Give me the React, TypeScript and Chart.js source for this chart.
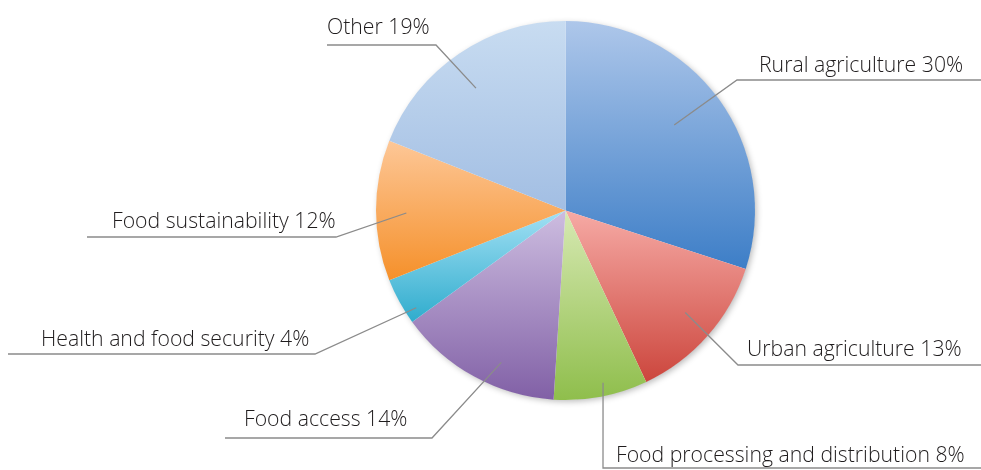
import { useEffect, useRef } from "react";
import { Chart, registerables } from "chart.js";

Chart.register(...registerables);

// ---- data ----
const categories = [
  "Rural agriculture",
  "Urban agriculture",
  "Food processing and distribution",
  "Food access",
  "Health and food security",
  "Food sustainability",
  "Other",
];
const shares = [30, 13, 8, 14, 4, 12, 19];

// ---- styles ----
const colorsTop = ["#aec7ea", "#f6aaa5", "#d7e9b3", "#cdbde0", "#a2e0f4", "#fdc797", "#c8dcf1"];
const colorsBottom = ["#3d7ec7", "#cc463d", "#8fbe4c", "#8160a6", "#2faccd", "#f5902a", "#a2bee3"];

// label layout: leader start (angle deg clockwise from top, fraction of radius),
// elbow offset from centre, horizontal line end (x offset), text anchor (x,y offset)
const labelLayout = [
  { angle: 51.8, f: 0.73, ex: 171.5, ey: -130.5, lx: 415.5, tx: 193.5, ty: -138.5 },
  { angle: 130.4, f: 0.83, ex: 172.5, ey: 154.5, lx: 415.5, tx: 181.5, ty: 145.5 },
  { angle: 167.7, f: 0.93, ex: 37.5, ey: 257.5, lx: 415.5, tx: 50.5, ty: 251.5 },
  { angle: 202.9, f: 0.87, ex: -133.5, ey: 227.5, lx: -340.5, tx: -321.5, ty: 215.5 },
  { angle: 236.9, f: 0.94, ex: -250.5, ey: 143.5, lx: -557.5, tx: -524.5, ty: 135 },
  { angle: 269.1, f: 0.84, ex: -229.5, ey: 26.5, lx: -478.5, tx: -453.5, ty: 17.5 },
  { angle: 323.8, f: 0.8, ex: -129.5, ey: -165.5, lx: -238.5, tx: -238.5, ty: -176.5 },
];

const FONT = "300 22px 'Open Sans', sans-serif";
const TEXT_SCALE_X = 0.965;

function sliceGradient(c: any) {
  const chart = c.chart;
  const area = chart.chartArea;
  const idx = c.dataIndex;
  if (!area || idx === undefined) return colorsBottom[idx ?? 0];
  const cx = (area.left + area.right) / 2;
  const cy = (area.top + area.bottom) / 2;
  const r = Math.min(area.right - area.left, area.bottom - area.top) / 2;
  const total = shares.reduce((a, b) => a + b, 0);
  let before = 0;
  for (let i = 0; i < idx; i++) before += shares[i];
  const a0 = (before / total) * Math.PI * 2;
  const a1 = ((before + shares[idx]) / total) * Math.PI * 2;
  let minY = cy;
  let maxY = cy;
  const steps = 90;
  for (let s = 0; s <= steps; s++) {
    const a = a0 + ((a1 - a0) * s) / steps;
    const y = cy - r * Math.cos(a);
    if (y < minY) minY = y;
    if (y > maxY) maxY = y;
  }
  const g = chart.ctx.createLinearGradient(0, minY, 0, maxY);
  g.addColorStop(0, colorsTop[idx]);
  g.addColorStop(1, colorsBottom[idx]);
  return g;
}

const shadowPlugin = {
  id: "pieShadow",
  beforeDatasetsDraw(chart: any) {
    const meta = chart.getDatasetMeta(0);
    const arc = meta.data[0];
    if (!arc) return;
    const ctx = chart.ctx;
    ctx.save();
    ctx.shadowColor = "rgba(0,0,0,0.28)";
    ctx.shadowBlur = 6;
    ctx.shadowOffsetX = 2;
    ctx.shadowOffsetY = 2;
    ctx.beginPath();
    ctx.arc(arc.x, arc.y, arc.outerRadius - 0.5, 0, Math.PI * 2);
    ctx.fillStyle = "#ffffff";
    ctx.fill();
    ctx.restore();
  },
};

const leaderPlugin = {
  id: "leaderLabels",
  afterDatasetsDraw(chart: any) {
    const meta = chart.getDatasetMeta(0);
    const ctx = chart.ctx;
    meta.data.forEach((arc: any, i: number) => {
      const L = labelLayout[i];
      const cx = arc.x;
      const cy = arc.y;
      const R = arc.outerRadius;
      const a = (L.angle * Math.PI) / 180;
      const sx = cx + R * L.f * Math.sin(a);
      const sy = cy - R * L.f * Math.cos(a);
      ctx.save();
      ctx.strokeStyle = "#8b8b8b";
      ctx.lineWidth = 1.3;
      ctx.beginPath();
      ctx.moveTo(sx, sy);
      ctx.lineTo(cx + L.ex, cy + L.ey);
      ctx.lineTo(cx + L.lx, cy + L.ey);
      ctx.stroke();
      ctx.translate(cx + L.tx, cy + L.ty);
      ctx.scale(TEXT_SCALE_X, 1);
      ctx.font = FONT;
      ctx.fillStyle = "#1f1c1d";
      ctx.textAlign = "left";
      ctx.textBaseline = "alphabetic";
      ctx.fillText(`${categories[i]} ${shares[i]}%`, 0, 0);
      ctx.restore();
    });
  },
};

export default function App() {
  const canvasRef = useRef<HTMLCanvasElement | null>(null);

  useEffect(() => {
    if (!canvasRef.current) return;
    const chart = new Chart(canvasRef.current, {
      type: "pie",
      data: {
        labels: categories,
        datasets: [
          {
            data: shares,
            backgroundColor: sliceGradient as any,
            borderWidth: 0,
          },
        ],
      },
      options: {
        animation: false,
        responsive: true,
        maintainAspectRatio: false,
        layout: { padding: { left: 376, right: 226, top: 21, bottom: 70 } },
        plugins: {
          legend: { display: false },
          tooltip: { enabled: false },
        },
        events: [],
      },
      plugins: [shadowPlugin, leaderPlugin],
    });
    return () => chart.destroy();
  }, []);

  return (
    <div
      style={{
        position: "fixed",
        left: 0,
        top: 0,
        width: 981,
        height: 470,
        background: "#ffffff",
      }}
    >
      <canvas ref={canvasRef} />
    </div>
  );
}
